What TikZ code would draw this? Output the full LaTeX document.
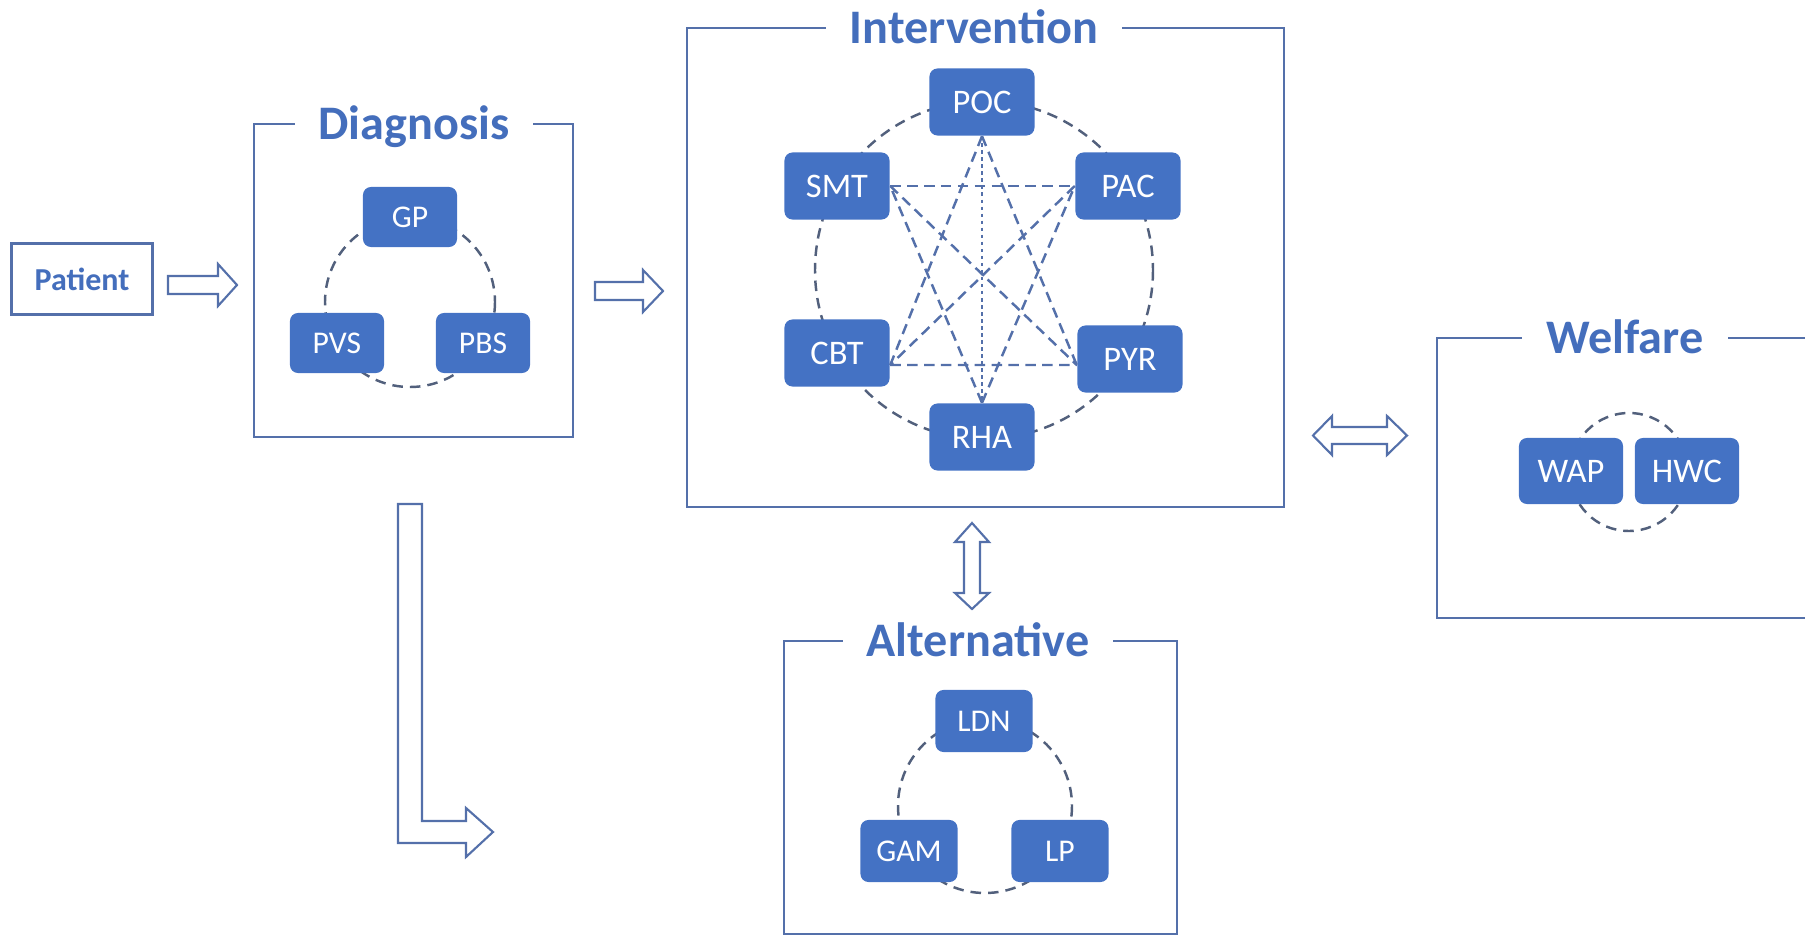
\documentclass[tikz,border=0pt]{standalone}
\usepackage{fontspec}
\setmainfont{Carlito}
\usetikzlibrary{calc}

\definecolor{boxblue}{RGB}{68,114,196}
\definecolor{framecol}{RGB}{84,112,170}
\definecolor{dashcol}{RGB}{82,96,124}
\definecolor{titlecol}{RGB}{68,110,188}

\tikzset{
  frame/.style = {draw=framecol, line width=0.8pt},
  title/.style = {fill=white, text=titlecol, font=\fontsize{13.7}{16}\selectfont\bfseries,
    inner xsep=0.24cm, inner ysep=0pt, anchor=base},
  item/.style = {fill=boxblue, rounded corners=0.08cm, text=white, font=\fontsize{9.8}{12}\selectfont,
    minimum width=1.05cm, minimum height=0.67cm, inner sep=0pt},
  smallitem/.style = {item, font=\fontsize{9}{11}\selectfont, minimum width=0.95cm, minimum height=0.61cm},
  ring/.style = {draw=dashcol, line width=0.7pt, dash pattern=on 3pt off 2pt},
  link/.style = {draw=framecol, line width=0.7pt, dash pattern=on 3pt off 1.8pt},
  blockarrow/.style = {draw=framecol, line width=0.6pt, fill=white, line join=miter}
}

\begin{document}
\begin{tikzpicture}[x=0.01cm, y=-0.01cm]
\useasboundingbox (0,0) rectangle (1805,936);
\clip (0,0) rectangle (1805,936);

\node [draw=framecol, line width=0.8pt, minimum width=1.41cm, minimum height=0.71cm,
  text=titlecol, font=\fontsize{9.1}{11}\selectfont\bfseries] (patient) at (82,279) {Patient};
\draw [blockarrow] (168,276) -- (218,276) -- (218,264) -- (237,285) -- (218,306) -- (218,294) -- (168,294) -- cycle;

\draw [frame] (254,124) rectangle (573,437);
\node [title] (diagtitle) at (414,139) {Diagnosis};
\draw [ring] (410,302) circle [radius=85];
\node [smallitem, minimum width=0.94cm, minimum height=0.6cm] (gp) at (410,217) {GP};
\node [smallitem, minimum width=0.94cm, minimum height=0.6cm] (pvs) at (337,343) {PVS};
\node [smallitem, minimum width=0.94cm, minimum height=0.6cm] (pbs) at (483,343) {PBS};

\draw [blockarrow] (595,282) -- (643,282) -- (643,270) -- (663,291) -- (643,312) -- (643,300) -- (595,300) -- cycle;

\draw [frame] (687,28) rectangle (1284,507);
\node [title] (inttitle) at (974,43) {Intervention};
\draw [ring] (984,270) circle [radius=169];
\node [item] (poc) at (982,102) {POC};
\node [item] (smt) at (837,186) {SMT};
\node [item] (pac) at (1128,186) {PAC};
\node [item] (cbt) at (837,353) {CBT};
\node [item] (pyr) at (1130,359) {PYR};
\node [item] (rha) at (982,437) {RHA};

\coordinate (cbtend) at ([yshift=-0.12cm]cbt.east);
\coordinate (pyrend) at ([yshift=-0.06cm]pyr.west);
\draw [link] (smt.east) -- (pac.west);
\draw [link] (cbtend) -- (pyrend);
\draw [link] (poc.south) -- (cbtend);
\draw [link] (poc.south) -- (pyrend);
\draw [link] (rha.north) -- (smt.east);
\draw [link] (rha.north) -- (pac.west);
\draw [link] (smt.east) -- (pyrend);
\draw [link] (pac.west) -- (cbtend);
\draw [link, line width=0.3pt, dash pattern=on 1pt off 1pt] (poc.south) -- (rha.north);

\draw [blockarrow] (1313,435.5) -- (1332,416) -- (1332,427) -- (1387,427) -- (1387,416) -- (1407,435.5)
  -- (1387,455) -- (1387,444) -- (1332,444) -- (1332,455) -- cycle;

\draw [frame] (1830,338) -- (1437,338) -- (1437,618) -- (1830,618);
\node [title] (weltitle) at (1625,353) {Welfare};
\draw [ring] (1629,472) circle [radius=59];
\node [item, minimum width=1.04cm, minimum height=0.66cm] (wap) at (1571,471) {WAP};
\node [item, minimum width=1.04cm, minimum height=0.66cm] (hwc) at (1687,471) {HWC};

\draw [blockarrow] (972,523) -- (989,542) -- (980,542) -- (980,593) -- (989,593) -- (972,609)
  -- (955,593) -- (964,593) -- (964,542) -- (955,542) -- cycle;

\draw [frame] (784,641) rectangle (1177,934);
\node [title] (alttitle) at (978,656) {Alternative};
\draw [ring] (985,806) circle [radius=87];
\node [smallitem, minimum width=0.97cm, minimum height=0.62cm] (ldn) at (984,721) {LDN};
\node [smallitem, minimum width=0.97cm, minimum height=0.62cm] (gam) at (909,851) {GAM};
\node [smallitem, minimum width=0.97cm, minimum height=0.62cm] (lp) at (1060,851) {LP};

\draw [blockarrow] (398,504) -- (422,504) -- (422,821) -- (466,821) -- (466,808) -- (493,832)
  -- (466,857) -- (466,843) -- (398,843) -- cycle;
\end{tikzpicture}
\end{document}
